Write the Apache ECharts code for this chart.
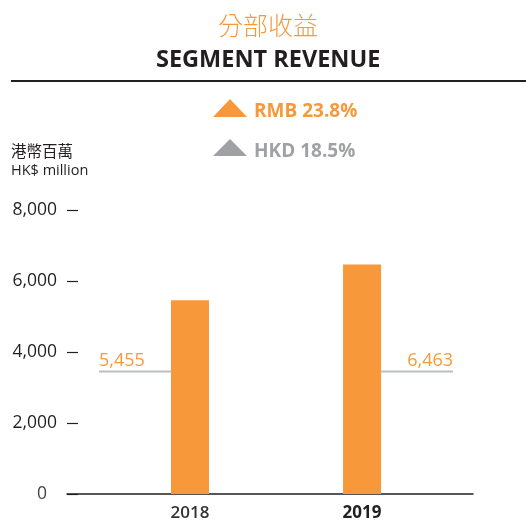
<!DOCTYPE html>
<html lang="en">

<head>
    <meta charset="UTF-8">
    <title>Segment Revenue</title>
    <script src="https://cdn.jsdelivr.net/npm/echarts@6/dist/echarts.min.js"></script>
    <style>
        html, body { margin: 0; padding: 0; background: #fff; }
        #chart { width: 526px; height: 522px; }
    </style>
</head>

<body>
    <div id="chart"></div>
    <script>
        // data
        var years = ['2018', '2019']
        var revenue = [5455, 6463]
        var yTicks = [0, 2000, 4000, 6000, 8000]
        var changeLabels = ['RMB 23.8%', 'HKD 18.5%']

        var orange = '#f7993b'
        var grey = '#a0a1a4'
        var ink = '#231f20'
        var font = '"Open Sans", "Noto Sans", sans-serif'
        var cjk = '"Noto Sans CJK TC", "Noto Sans CJK SC", sans-serif'

        var barData = revenue.map(function (v, i) { return [i, v] })
        // which side of the bar the value label sits on
        var labelSide = ['left', 'right']
        var leaderLevel = 3450 // height of the grey leader line, in axis units

        var chart = echarts.init(document.getElementById('chart'))

        var option = {
            animation: false,
            title: [{
                text: '分部收益',
                left: 213,
                top: 8,
                textStyle: { fontFamily: cjk, fontWeight: 300, fontSize: 25, color: orange }
            }, {
                text: 'SEGMENT REVENUE',
                left: 151,
                top: 43,
                textStyle: { fontFamily: font, fontWeight: 'bold', fontSize: 23.5, color: ink }
            }],
            graphic: [
                { type: 'line', shape: { x1: 11, y1: 81, x2: 526, y2: 81 }, style: { stroke: ink, lineWidth: 2 } },
                { type: 'polygon', shape: { points: [[213, 117], [230, 99], [247, 117]] }, style: { fill: orange } },
                { type: 'text', left: 254, top: 102, style: { text: changeLabels[0], font: 'bold 19px ' + font, fill: orange } },
                { type: 'polygon', shape: { points: [[213, 156], [230, 139], [247, 156]] }, style: { fill: grey } },
                { type: 'text', left: 254, top: 142, style: { text: changeLabels[1], font: 'bold 19px ' + font, fill: grey } },
                { type: 'text', left: 11, top: 143, style: { text: '港幣百萬', font: '15.5px ' + cjk, fill: ink } },
                { type: 'text', left: 11, top: 163, style: { text: 'HK$ million', font: '14.5px ' + font, fill: ink } }
            ],
            grid: { left: 67, right: 53, top: 210, bottom: 27 },
            xAxis: {
                type: 'value',
                min: -0.715,
                max: 1.645,
                axisLine: { show: true, lineStyle: { color: ink, width: 1.5 } },
                axisTick: { show: false },
                splitLine: { show: false },
                axisLabel: {
                    customValues: [0, 1],
                    margin: 11,
                    formatter: function (v) {
                        var i = Math.round(v)
                        return i === years.length - 1 ? '{b|' + years[i] + '}' : '{a|' + years[i] + '}'
                    },
                    rich: {
                        a: { fontFamily: font, fontSize: 17, fontWeight: 600, color: '#333' },
                        b: { fontFamily: font, fontSize: 17, fontWeight: 'bold', color: ink }
                    }
                }
            },
            yAxis: {
                type: 'value',
                min: yTicks[0],
                max: yTicks[yTicks.length - 1],
                interval: yTicks[1] - yTicks[0],
                axisLine: { show: false, onZero: false },
                axisTick: { show: true, inside: true, length: 11, lineStyle: { color: ink, width: 1.2 } },
                splitLine: { show: false },
                axisLabel: {
                    margin: 10,
                    fontFamily: font,
                    fontSize: 17.5,
                    color: ink,
                    formatter: function (v) {
                        if (v === 0) return '{z|0}'
                        return v.toLocaleString('en-US')
                    },
                    rich: {
                        z: { fontFamily: font, fontSize: 17.5, color: '#444', padding: [0, 10, 0, 0] }
                    }
                }
            },
            series: [{
                type: 'bar',
                data: barData,
                barWidth: 38,
                itemStyle: { color: orange }
            }, {
                type: 'custom',
                data: barData,
                z: 5,
                renderItem: function (params, api) {
                    var i = api.value(0)
                    var v = api.value(1)
                    var mid = api.coord([i, leaderLevel])
                    var half = 19
                    var len = 72
                    var left = labelSide[i] === 'left'
                    var x1 = left ? mid[0] - half : mid[0] + half
                    var x2 = left ? x1 - len : x1 + len
                    return {
                        type: 'group',
                        children: [{
                            type: 'line',
                            shape: { x1: x1, y1: mid[1], x2: x2, y2: mid[1] },
                            style: { stroke: '#bcbec0', lineWidth: 2 }
                        }, {
                            type: 'text',
                            x: x2,
                            y: mid[1] - 2,
                            style: {
                                text: v.toLocaleString('en-US'),
                                font: '18px ' + font,
                                fill: orange,
                                align: left ? 'left' : 'right',
                                verticalAlign: 'bottom'
                            }
                        }]
                    }
                }
            }]
        }
        chart.setOption(option)
    </script>
</body>

</html>
